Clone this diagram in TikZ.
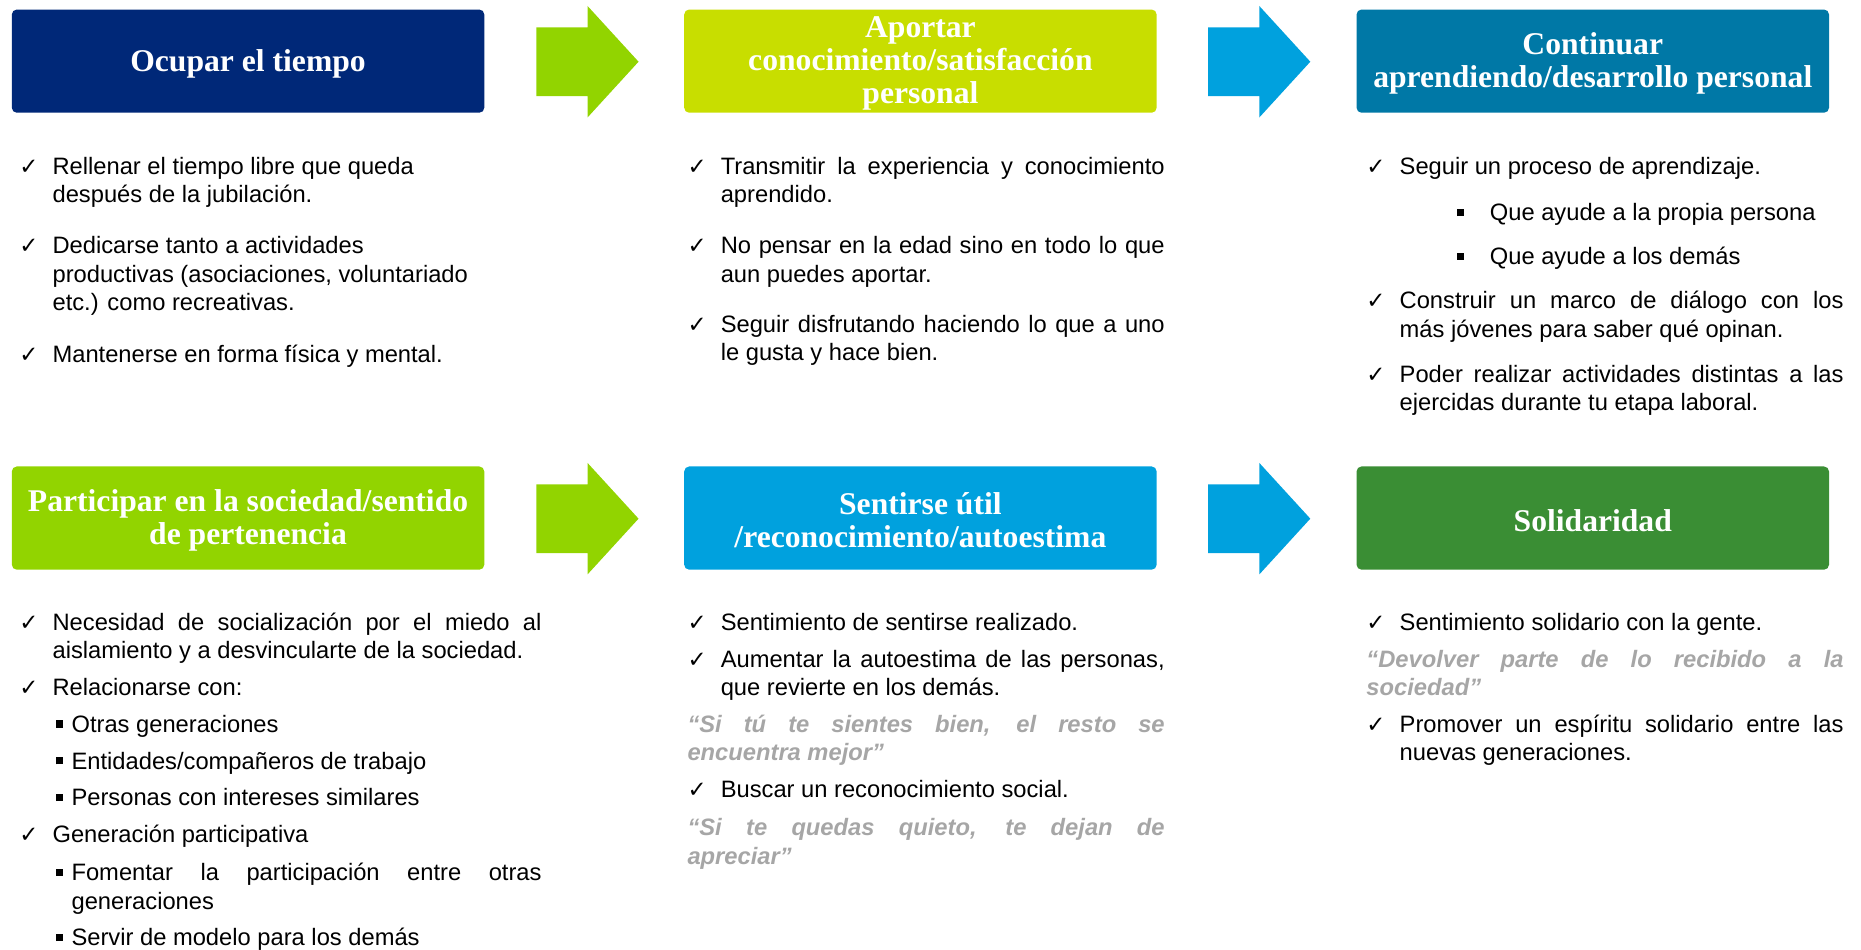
\documentclass[tikz,border=0pt]{standalone}
\usepackage{fontspec}
\setmainfont{Liberation Sans}
\newfontfamily\headfont{Liberation Serif}
\newfontfamily\symfont{DejaVu Sans}
\usepackage{tikz}

\definecolor{cNavy}{RGB}{0,40,120}
\definecolor{cGreen}{RGB}{146,212,0}
\definecolor{cLime}{RGB}{200,222,0}
\definecolor{cSky}{RGB}{0,161,222}
\definecolor{cTeal}{RGB}{0,120,166}
\definecolor{cDark}{RGB}{58,142,52}
\definecolor{cQuote}{RGB}{166,166,166}

\newlength\ux
\setlength\ux{0.2374mm}
\newcommand{\jl}[1]{\makebox[\linewidth][s]{#1}}
\newcommand{\chk}[2]{\makebox[28\ux][l]{\symfont\fontsize{13}{13}\selectfont ✓}\parbox[t]{#1}{#2}}
\newcommand{\sqb}{\rule[0.2em]{0.3em}{0.3em}}
\newcommand{\sub}[3]{\makebox[#1][l]{\sqb}\parbox[t]{#2}{#3}}

\begin{document}
\begin{tikzpicture}[x=0.2374mm, y=-0.2374mm]
    \tikzstyle{head}=[rounded corners=1mm, minimum width=94.5mm, minimum height=20.65mm, inner sep=0pt]
    \tikzstyle{headtxt}=[inner sep=0pt, align=center, text=white, font=\headfont\bfseries\fontsize{18}{18.9}\selectfont]
    \tikzstyle{item}=[anchor=base west, inner sep=0pt, font=\fontsize{13.5}{16.2}\selectfont]
    \tikzstyle{quote}=[item, text=cQuote, font=\bfseries\itshape\fontsize{13.5}{16.2}\selectfont]

    \useasboundingbox (0,0) rectangle (1568,800);

    % headers
    \node[head, fill=cNavy] (ocupar) at (209,51.5) {};
    \node[head, fill=cLime] (aportar) at (775.5,51.5) {};
    \node[head, fill=cTeal] (continuar) at (1342,51.5) {};
    \node[head, fill=cGreen] (participar) at (209,436.5) {};
    \node[head, fill=cSky] (util) at (775.5,436.5) {};
    \node[head, fill=cDark] (solidaridad) at (1342,436.5) {};

    \node[headtxt] (ocupar-t) at ([yshift=-0.5mm]ocupar.center) {Ocupar el tiempo};
    \node[headtxt] (aportar-t) at ([yshift=-0.5mm]aportar.center) {Aportar\\conocimiento/satisfacción\\personal};
    \node[headtxt] (continuar-t) at ([yshift=-0.5mm]continuar.center) {Continuar\\aprendiendo/desarrollo personal};
    \node[headtxt] (participar-t) at ([yshift=-0.5mm]participar.center) {Participar en la sociedad/sentido\\de pertenencia};
    \node[headtxt] (util-t) at ([yshift=-0.5mm]util.center) {Sentirse útil\\/reconocimiento/autoestima};
    \node[headtxt] (solidaridad-t) at ([yshift=-0.5mm]solidaridad.center) {Solidaridad};

    % block arrows
    \foreach \x/\y/\c in {452/52/cGreen, 1018/52/cSky, 452/437/cGreen, 1018/437/cSky}
        \fill[\c] (\x,\y-29) -- (\x+43,\y-29) -- (\x+43,\y-47) -- (\x+86,\y)
            -- (\x+43,\y+47) -- (\x+43,\y+29) -- (\x,\y+29) -- cycle;

    % ocupar el tiempo
    \node[item] (o1) at (16,147) {\chk{412\ux}{Rellenar el tiempo libre que queda\\después de la jubilación.}};
    \node[item] (o2) at (16,214) {\chk{412\ux}{Dedicarse tanto a actividades\\productivas (asociaciones, voluntariado\\etc.) como recreativas.}};
    \node[item] (o3) at (16,305) {\chk{412\ux}{Mantenerse en forma física y mental.}};

    % aportar
    \node[item] (a1) at (579,147) {\chk{374\ux}{\jl{Transmitir la experiencia y conocimiento}\\aprendido.}};
    \node[item] (a2) at (579,214) {\chk{374\ux}{\jl{No pensar en la edad sino en todo lo que}\\aun puedes aportar.}};
    \node[item] (a3) at (579,280) {\chk{374\ux}{\jl{Seguir disfrutando haciendo lo que a uno}\\le gusta y hace bien.}};

    % continuar
    \node[item] (c1) at (1151,147) {\chk{374\ux}{Seguir un proceso de aprendizaje.}};
    \node[item] (c2) at (1227,186) {\sub{28\ux}{300\ux}{Que ayude a la propia persona}};
    \node[item] (c3) at (1227,223) {\sub{28\ux}{300\ux}{Que ayude a los demás}};
    \node[item] (c4) at (1151,260) {\chk{374\ux}{\jl{Construir un marco de diálogo con los}\\más jóvenes para saber qué opinan.}};
    \node[item] (c5) at (1151,322) {\chk{374\ux}{\jl{Poder realizar actividades distintas a las}\\ejercidas durante tu etapa laboral.}};

    % participar
    \node[item] (p1) at (16,531) {\chk{412\ux}{\jl{Necesidad de socialización por el miedo al}\\aislamiento y a desvincularte de la sociedad.}};
    \node[item] (p2) at (16,586) {\chk{412\ux}{Relacionarse con:}};
    \node[item] (p3) at (47,617) {\sub{13\ux}{396\ux}{Otras generaciones}};
    \node[item] (p4) at (47,648) {\sub{13\ux}{396\ux}{Entidades/compañeros de trabajo}};
    \node[item] (p5) at (47,679) {\sub{13\ux}{396\ux}{Personas con intereses similares}};
    \node[item] (p6) at (16,710) {\chk{412\ux}{Generación participativa}};
    \node[item] (p7) at (47,742) {\sub{13\ux}{396\ux}{\jl{Fomentar la participación entre otras}\\generaciones}};
    \node[item] (p8) at (47,797) {\sub{13\ux}{396\ux}{Servir de modelo para los demás}};

    % sentirse util
    \node[item] (u1) at (579,531) {\chk{374\ux}{Sentimiento de sentirse realizado.}};
    \node[item] (u2) at (579,562) {\chk{374\ux}{\jl{Aumentar la autoestima de las personas,}\\que revierte en los demás.}};
    \node[quote] (u3) at (579,617) {\parbox[t]{402\ux}{\jl{“Si tú te sientes bien, el resto se}\\encuentra mejor”}};
    \node[item] (u4) at (579,672) {\chk{374\ux}{Buscar un reconocimiento social.}};
    \node[quote] (u5) at (579,704) {\parbox[t]{402\ux}{\jl{“Si te quedas quieto, te dejan de}\\apreciar”}};

    % solidaridad
    \node[item] (s1) at (1151,531) {\chk{374\ux}{Sentimiento solidario con la gente.}};
    \node[quote] (s2) at (1151,562) {\parbox[t]{402\ux}{\jl{“Devolver parte de lo recibido a la}\\sociedad”}};
    \node[item] (s3) at (1151,617) {\chk{374\ux}{\jl{Promover un espíritu solidario entre las}\\nuevas generaciones.}};
\end{tikzpicture}
\end{document}
